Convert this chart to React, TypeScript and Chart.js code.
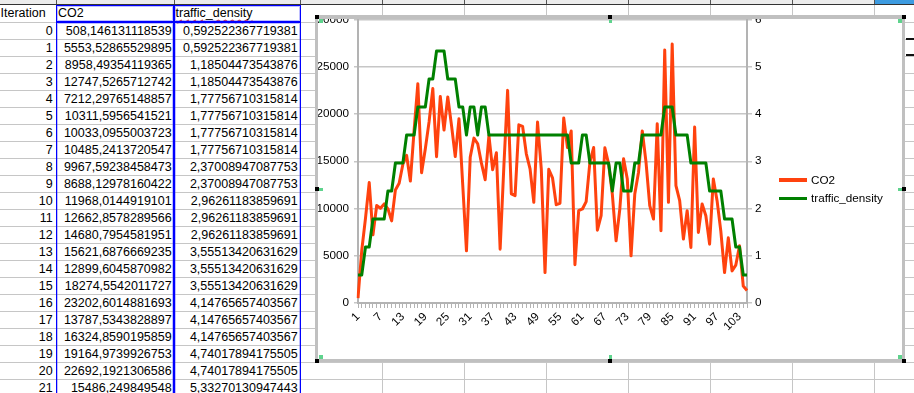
import React, { useEffect, useRef } from 'react';
import { Chart, registerables } from 'chart.js';

Chart.register(...registerables);

// ---- data ----
const categories = [
  1, 2, 3, 4, 5, 6, 7, 8, 9, 10, 11, 12, 13, 14, 15, 16, 17, 18, 19, 20,
  21, 22, 23, 24, 25, 26, 27, 28, 29, 30, 31, 32, 33, 34, 35, 36, 37, 38, 39, 40,
  41, 42, 43, 44, 45, 46, 47, 48, 49, 50, 51, 52, 53, 54, 55, 56, 57, 58, 59, 60,
  61, 62, 63, 64, 65, 66, 67, 68, 69, 70, 71, 72, 73, 74, 75, 76, 77, 78, 79, 80,
  81, 82, 83, 84, 85, 86, 87, 88, 89, 90, 91, 92, 93, 94, 95, 96, 97, 98, 99, 100,
  101, 102, 103, 104, 105,
];

const co2 = [
  508.146131118539, 5553.52865529895, 8958.49354119365, 12747.5265712742, 7212.29765148857,
  10311.5956541521, 10033.0955003723, 10485.2413720547, 9967.59238458473, 8688.12978160422,
  11968.0144919101, 12662.8578289566, 14680.7954581951, 15621.6876669235, 12899.6045870982,
  18274.5542011727, 23202.6014881693, 13787.5343828897, 16324.8590195859, 19164.9739926753,
  22692.1921306586, 15486.249849548,
  21850, 18300, 21800, 18800, 15500, 19500, 12500, 5520,
  15430, 17450, 16850, 14800, 13050, 17700, 14100, 15900, 5700, 14500,
  22500, 11550, 11360, 18850, 18700, 15790, 14200, 10650, 19150, 14200,
  3220, 14150, 13250, 10400, 10550, 19580, 16450, 18200, 4050, 9770,
  9950, 10730, 14900, 16450, 7700, 9240, 16420, 14730, 11500, 6580,
  9950, 15260, 13130, 4990, 11540, 13840, 18200, 14900, 10300, 8880,
  18970, 7650, 26760, 10650, 27400, 12430, 10830, 6760, 9770, 5880,
  18620, 7470, 10480, 9240, 6230, 13130, 10830, 7600, 3220, 6900,
  3400, 4000, 6050, 1800, 1330,
];

const trafficDensity = [
  0.592522367719381, 0.592522367719381, 1.18504473543876, 1.18504473543876, 1.77756710315814,
  1.77756710315814, 1.77756710315814, 1.77756710315814, 2.37008947087753, 2.37008947087753,
  2.96261183859691, 2.96261183859691, 2.96261183859691, 3.55513420631629, 3.55513420631629,
  3.55513420631629, 4.14765657403567, 4.14765657403567, 4.14765657403567, 4.74017894175505,
  4.74017894175505, 5.33270130947443, 5.33270130947443, 5.33270130947443, 4.74017894175505,
  4.74017894175505, 4.74017894175505, 4.14765657403567, 4.14765657403567, 3.55513420631629,
  4.14765657403567, 4.14765657403567, 3.55513420631629, 4.14765657403567, 4.14765657403567,
  3.55513420631629, 3.55513420631629, 3.55513420631629, 3.55513420631629, 3.55513420631629,
  3.55513420631629, 3.55513420631629, 3.55513420631629, 3.55513420631629, 3.55513420631629,
  3.55513420631629, 3.55513420631629, 3.55513420631629, 3.55513420631629, 3.55513420631629,
  3.55513420631629, 3.55513420631629, 3.55513420631629, 3.55513420631629, 3.55513420631629,
  3.55513420631629, 3.55513420631629, 2.96261183859691, 2.96261183859691, 2.96261183859691,
  3.55513420631629, 3.55513420631629, 2.96261183859691, 2.96261183859691, 2.96261183859691,
  2.96261183859691, 2.96261183859691, 2.96261183859691, 2.37008947087753, 2.96261183859691,
  2.96261183859691, 2.37008947087753, 2.37008947087753, 2.37008947087753, 2.96261183859691,
  2.96261183859691, 3.55513420631629, 3.55513420631629, 3.55513420631629, 3.55513420631629,
  3.55513420631629, 3.55513420631629, 4.14765657403567, 4.14765657403567, 4.14765657403567,
  3.55513420631629, 3.55513420631629, 3.55513420631629, 3.55513420631629, 2.96261183859691,
  2.96261183859691, 2.96261183859691, 2.96261183859691, 2.96261183859691, 2.37008947087753,
  2.37008947087753, 2.37008947087753, 2.37008947087753, 1.77756710315814, 1.77756710315814,
  1.77756710315814, 1.18504473543876, 1.18504473543876, 0.592522367719381, 0.592522367719381,
];

const shownXTicks = [1, 7, 13, 19, 25, 31, 37, 43, 49, 55, 61, 67, 73, 79, 85, 91, 97, 103];
const leftAxisTicks = [0, 5000, 10000, 15000, 20000, 25000, 30000];
const rightAxisTicks = [0, 1, 2, 3, 4, 5, 6];
const tableIterations = [0, 1, 2, 3, 4, 5, 6, 7, 8, 9, 10, 11, 12, 13, 14, 15, 16, 17, 18, 19, 20, 21];
const seriesNames = ['CO2', 'traffic_density'];
const seriesColors = ['#ff420e', '#008000'];

const FONT = '"Liberation Sans", Arial, sans-serif';
const GRID = '#c6c6c6';
const AXIS = '#b3b3b3';
const BLUE = '#0000ff';

const columnLines = [55.5, 173.5, 300, 382, 464, 546, 628, 710, 792, 874];

function fmt(v: number) {
  return String(v).replace('.', ',');
}

function ChartCanvas() {
  const ref = useRef<HTMLCanvasElement | null>(null);
  useEffect(() => {
    if (!ref.current) return;
    const tickFont = { family: FONT, size: 11.7 };
    const chart = new Chart(ref.current, {
      type: 'line',
      data: {
        labels: categories.map(String),
        datasets: [
          {
            label: seriesNames[0],
            data: co2,
            yAxisID: 'y',
            borderColor: seriesColors[0],
            backgroundColor: seriesColors[0],
            borderWidth: 3,
            pointRadius: 0,
            tension: 0,
            borderJoinStyle: 'round',
            order: 1,
          },
          {
            label: seriesNames[1],
            data: trafficDensity,
            yAxisID: 'y1',
            borderColor: seriesColors[1],
            backgroundColor: seriesColors[1],
            borderWidth: 3,
            pointRadius: 0,
            tension: 0,
            borderJoinStyle: 'round',
            order: 0,
          },
        ],
      },
      options: {
        responsive: false,
        animation: false,
        layout: { padding: { left: 0, top: 12.5, right: 125, bottom: 0 } },
        plugins: { legend: { display: false }, tooltip: { enabled: false } },
        scales: {
          x: {
            offset: false,
            grid: { drawOnChartArea: false, drawTicks: true, tickLength: 5, color: AXIS, lineWidth: 1 },
            border: { color: AXIS, width: 2 },
            ticks: {
              autoSkip: false,
              maxRotation: 45,
              minRotation: 45,
              padding: 2,
              color: '#000',
              font: tickFont,
              callback: (_v: any, i: number) =>
                shownXTicks.includes(categories[i]) ? String(categories[i]) : '',
            },
            afterFit: (s: any) => {
              s.height = 56;
            },
          },
          y: {
            position: 'left',
            min: leftAxisTicks[0],
            max: leftAxisTicks[leftAxisTicks.length - 1],
            grid: { color: GRID, lineWidth: 1.5, tickLength: 4 },
            border: { color: AXIS, width: 2 },
            ticks: {
              stepSize: leftAxisTicks[1] - leftAxisTicks[0],
              padding: 5,
              color: '#000',
              font: tickFont,
              callback: (v: any) => String(v),
            },
            afterFit: (s: any) => {
              s.width = 40;
            },
          },
          y1: {
            position: 'right',
            min: rightAxisTicks[0],
            max: rightAxisTicks[rightAxisTicks.length - 1],
            grid: { drawOnChartArea: false, color: GRID, lineWidth: 1.5, tickLength: 5 },
            border: { color: AXIS, width: 2 },
            ticks: {
              stepSize: rightAxisTicks[1] - rightAxisTicks[0],
              padding: 3,
              color: '#000',
              font: tickFont,
              callback: (v: any) => String(v),
            },
            afterFit: (s: any) => {
              s.width = 30;
            },
          },
        },
      },
    } as any);
    return () => chart.destroy();
  }, []);
  return (
    <canvas
      ref={ref}
      width={584}
      height={352}
      style={{ position: 'absolute', left: 0, top: -11, width: 584, height: 352 }}
    />
  );
}

const abs = (s: React.CSSProperties): React.CSSProperties => ({ position: 'absolute', ...s });

const blueBox = (left: number, top: number, width: number, height: number): React.CSSProperties =>
  abs({
    left,
    top,
    width,
    height,
    border: '1px solid ' + BLUE,
    boxShadow: 'inset 0 0 0 1px rgba(70,70,255,0.35)',
    boxSizing: 'border-box',
  });

export default function App() {
  const rows = tableIterations.map((it, k) => {
    const top = 23 + 17 * k;
    return (
      <React.Fragment key={it}>
        <div style={abs({ left: -20, top, width: 72.7, height: 16, lineHeight: '16px', textAlign: 'right' })}>{it}</div>
        <div style={abs({ left: 57, top, width: 114.7, height: 16, lineHeight: '16px', textAlign: 'right' })}>{fmt(co2[k])}</div>
        <div style={abs({ left: 176, top, width: 121.7, height: 16, lineHeight: '16px', textAlign: 'right' })}>{fmt(trafficDensity[k])}</div>
      </React.Fragment>
    );
  });

  const hLines = tableIterations.map((_, k) => (
    <div key={'h' + k} style={abs({ left: 0, top: 22 + 17 * k, width: 914, height: 1, background: GRID })} />
  ));
  const vLines = columnLines.map((x) => (
    <div key={'v' + x} style={abs({ left: x, top: 5, width: 1, height: 388, background: GRID })} />
  ));
  const headerTicks = columnLines.map((x) => (
    <div key={'t' + x} style={abs({ left: x, top: 0, width: 1, height: 4, background: '#555' })} />
  ));

  const black = '#000';
  const green = '#5fd38d';
  const handles: [number, number][] = [
    [315, 15], [608, 15], [902, 15],
    [315, 187], [902, 187],
    [315, 359], [608, 359], [902, 359],
  ];
  const gHandles: [number, number][] = [
    [319, 19], [608.5, 19.5], [898, 19],
    [319, 187.5], [898, 187.5],
    [319, 355], [608.5, 355], [898, 355],
  ];

  return (
    <div
      style={{
        position: 'fixed',
        left: 0,
        top: 0,
        width: 914,
        height: 393,
        overflow: 'hidden',
        background: '#fff',
        fontFamily: FONT,
        fontSize: 12.5,
        color: '#000',
      }}
    >
      {/* column header strip */}
      <div style={abs({ left: 0, top: 0, width: 914, height: 4, background: '#ececec' })} />
      <div style={abs({ left: 874, top: 0, width: 40, height: 4, background: '#3d9be0' })} />
      {headerTicks}
      <div style={abs({ left: 0, top: 4, width: 914, height: 1, background: '#333' })} />
      {hLines}
      {vLines}

      {/* header row */}
      <div style={abs({ left: 0.5, top: 5, height: 17, lineHeight: '17px' })}>Iteration</div>
      <div style={abs({ left: 58, top: 5, height: 17, lineHeight: '17px' })}>{seriesNames[0]}</div>
      <div style={abs({ left: 175.5, top: 5, height: 17, lineHeight: '17px' })}>
        <span style={{ textDecoration: 'underline wavy #e02020', textUnderlineOffset: 2 }}>traffic</span>_
        <span style={{ textDecoration: 'underline wavy #e02020', textUnderlineOffset: 2 }}>density</span>
      </div>
      {rows}

      {/* blue range outlines */}
      <div style={blueBox(55.5, 4.5, 118, 17.5)} />
      <div style={blueBox(173.5, 4.5, 127, 17.5)} />
      <div style={blueBox(55.5, 22, 118, 400)} />
      <div style={blueBox(173.5, 22, 127, 400)} />

      {/* marks right of the chart */}
      <div style={abs({ left: 906, top: 37.5, width: 8, height: 2, background: '#111' })} />
      <div style={abs({ left: 906, top: 53.5, width: 8, height: 2, background: '#111' })} />

      {/* chart object */}
      <div style={abs({ left: 318, top: 18, width: 584, height: 341, overflow: 'hidden', background: '#fff' })}>
        <ChartCanvas />
      </div>
      <div
        style={abs({
          left: 315,
          top: 15,
          width: 590,
          height: 347,
          borderStyle: 'solid',
          borderColor: '#c0c0c0',
          borderWidth: '4px 3px 3px 3px',
          boxSizing: 'border-box',
        })}
      />

      {/* legend */}
      <div style={abs({ left: 779, top: 178.3, width: 28, height: 3.5, background: seriesColors[0] })} />
      <div style={abs({ left: 811, top: 172, height: 16, lineHeight: '16px', fontSize: 11.7 })}>{seriesNames[0]}</div>
      <div style={abs({ left: 779, top: 196.6, width: 28, height: 3.5, background: seriesColors[1] })} />
      <div style={abs({ left: 811, top: 190.3, height: 16, lineHeight: '16px', fontSize: 11.7 })}>{seriesNames[1]}</div>

      {handles.map(([x, y], i) => (
        <div key={'b' + i} style={abs({ left: x, top: y, width: 3.5, height: 3.5, background: black })} />
      ))}
      {gHandles.map(([x, y], i) => (
        <div key={'g' + i} style={abs({ left: x, top: y, width: 3.7, height: 3.7, background: green })} />
      ))}
    </div>
  );
}
